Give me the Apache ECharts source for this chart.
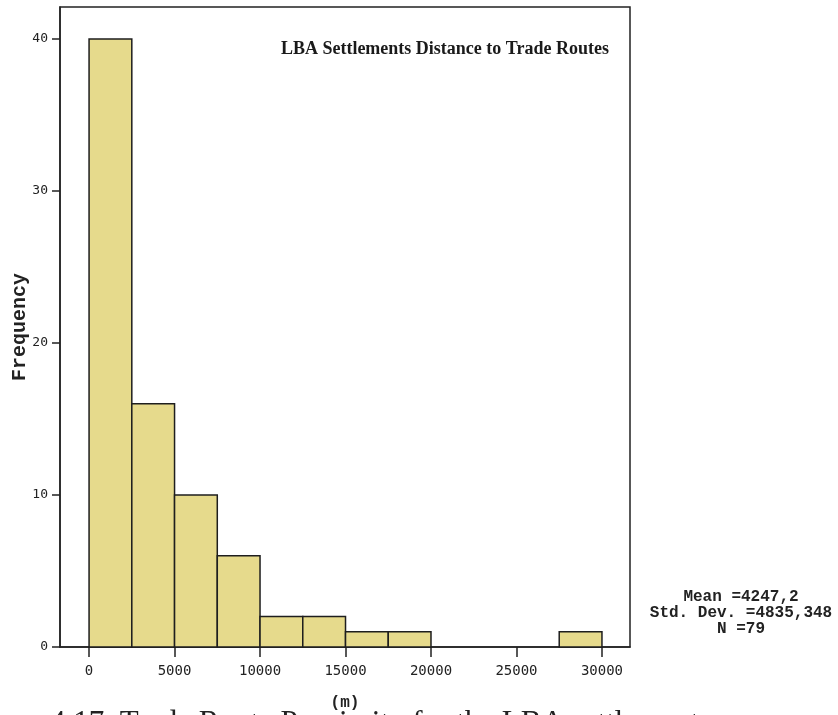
<!DOCTYPE html>
<html>
<head>
<meta charset="utf-8">
<script src="https://cdn.jsdelivr.net/npm/echarts@6/dist/echarts.min.js"></script>
<style>
  html, body { margin: 0; padding: 0; background: #fff; }
  #chart { width: 838px; height: 715px; }
</style>
</head>
<body>
<div id="chart"></div>
<script>
  // histogram bins (m), width 2500
  var binStarts = [0, 2500, 5000, 7500, 10000, 12500, 15000, 17500, 20000, 22500, 25000, 27500];
  var binWidth = 2500;
  var counts = [40, 16, 10, 6, 2, 2, 1, 1, 0, 0, 0, 1];
  var xTicks = [0, 5000, 10000, 15000, 20000, 25000, 30000];
  var yTicks = [0, 10, 20, 30, 40];
  var statLines = ['Mean =4247,2', 'Std. Dev. =4835,348', 'N =79'];

  var barData = [];
  for (var i = 0; i < binStarts.length; i++) {
    if (counts[i] > 0) barData.push([binStarts[i], binStarts[i] + binWidth, counts[i]]);
  }

  var chart = echarts.init(document.getElementById('chart'));
  chart.setOption({
    backgroundColor: '#fff',
    animation: false,
    title: {
      text: 'LBA Settlements Distance to Trade Routes',
      right: 224,
      top: 35,
      textStyle: { fontFamily: 'Liberation Serif', fontWeight: 'bold', fontSize: 18, color: '#1a1a1a' }
    },
    grid: {
      left: 60, top: 7, right: 208, bottom: 68,
      containLabel: false, outerBoundsMode: 'none',
      show: true, borderColor: '#222', borderWidth: 1.5, backgroundColor: '#fff'
    },
    xAxis: {
      type: 'value',
      min: -1700,
      max: 31640,
      name: '(m)',
      nameLocation: 'middle',
      nameGap: 48,
      nameMoveOverlap: false,
      nameTextStyle: { fontFamily: 'Liberation Mono', fontWeight: 'bold', fontSize: 16, color: '#222' },
      splitLine: { show: false },
      axisLine: { show: true, onZero: false, lineStyle: { color: '#222', width: 1.5 } },
      axisTick: { show: true, length: 10, customValues: xTicks, lineStyle: { color: '#222', width: 1.5 } },
      axisLabel: {
        customValues: xTicks, margin: 17,
        formatter: function (v) { return String(v); },
        fontFamily: 'DejaVu Sans Mono', fontSize: 14, color: '#222'
      }
    },
    yAxis: {
      type: 'value',
      min: 0,
      max: 42.1,
      name: 'Frequency',
      nameLocation: 'middle',
      nameGap: 30,
      nameMoveOverlap: false,
      nameTextStyle: { fontFamily: 'Liberation Mono', fontWeight: 'bold', fontSize: 20, color: '#222' },
      splitLine: { show: false },
      axisLine: { show: true, onZero: false, lineStyle: { color: '#222', width: 1.5 } },
      axisTick: { show: true, length: 8, customValues: yTicks, lineStyle: { color: '#222', width: 1.5 } },
      axisLabel: {
        customValues: yTicks, margin: 12,
        fontFamily: 'DejaVu Sans Mono', fontSize: 13, color: '#222'
      }
    },
    series: [{
      type: 'custom',
      data: barData,
      encode: { x: [0, 1], y: 2 },
      renderItem: function (params, api) {
        var p0 = api.coord([api.value(0), api.value(2)]);
        var p1 = api.coord([api.value(1), 0]);
        return {
          type: 'rect',
          shape: { x: p0[0], y: p0[1], width: p1[0] - p0[0], height: p1[1] - p0[1] },
          style: { fill: '#E6DA8C', stroke: '#1e1e1e', lineWidth: 1.5 }
        };
      }
    }],
    graphic: [
      {
        type: 'text',
        x: 741,
        y: 589,
        style: {
          text: statLines.join('\n'),
          align: 'center',
          verticalAlign: 'top',
          font: 'bold 16px "Liberation Mono"',
          lineHeight: 16,
          fill: '#222'
        }
      },
      {
        type: 'text',
        x: 50,
        y: 708,
        style: {
          text: '4.17. Trade Route Proximity for the LBA settlements',
          font: '31px "Liberation Serif"',
          verticalAlign: 'top',
          fill: '#222'
        }
      }
    ]
  });
</script>
</body>
</html>
